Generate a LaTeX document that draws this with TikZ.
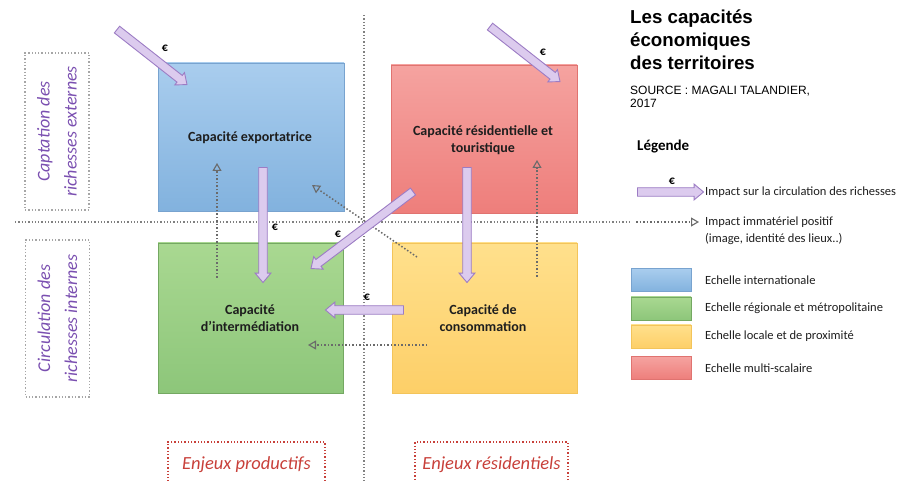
\documentclass[tikz,border=0pt]{standalone}
\usepackage{fontspec}
\setmainfont{Carlito}
\newfontfamily\titlefont{Liberation Sans}
\usetikzlibrary{arrows.meta,shapes.arrows,calc}
\definecolor{bluetop}{HTML}{A9CDEE}
\definecolor{bluebot}{HTML}{82B2DE}
\definecolor{blueedge}{HTML}{78A3CF}
\definecolor{redtop}{HTML}{F5A3A0}
\definecolor{redbot}{HTML}{EE7E7B}
\definecolor{rededge}{HTML}{E07370}
\definecolor{greentop}{HTML}{A9D891}
\definecolor{greenbot}{HTML}{8DC67A}
\definecolor{greenedge}{HTML}{74A862}
\definecolor{yeltop}{HTML}{FFE08C}
\definecolor{yelbot}{HTML}{FDCF68}
\definecolor{yeledge}{HTML}{F3C45A}
\definecolor{lav}{HTML}{DCCBEE}
\definecolor{lavedge}{HTML}{9C7CC4}
\definecolor{sidepurple}{HTML}{7A4FB0}
\definecolor{enjred}{HTML}{C8403A}
\definecolor{dotgrey}{HTML}{6A6A6A}
\definecolor{boxtext}{HTML}{1E1E1E}
\newcommand\fatarrow[2]{\path let \p1=($(#2)-(#1)$), \n1={atan2(\y1,\x1)}, \n2={veclen(\x1,\y1)} in node[fatarr, rotate=\n1, minimum height=\n2] at ($(#1)!0.5!(#2)$) {};}
\begin{document}
\begin{tikzpicture}[x=1pt,y=-1pt,
  capbox/.style={rectangle, draw, line width=0.8pt, minimum width=186pt, minimum height=148pt, inner sep=0pt, align=center, text=boxtext, font=\fontsize{14}{17}\selectfont\bfseries},
  fatarr/.style={single arrow, draw=lavedge, fill=lav, line width=0.9pt, inner sep=3.8pt, single arrow head extend=3.6pt, single arrow tip angle=80},
  euro/.style={font=\fontsize{12}{12}\selectfont\bfseries, text=black, inner sep=0pt},
  dotarr/.style={draw=dotgrey, dotted, line width=1.5pt, -{Triangle[open, length=8pt, width=9pt, line width=1.1pt]}},
  axis/.style={draw=dotgrey!85, dotted, line width=1.3pt},
  sidebox/.style={draw=gray!70, dotted, line width=1.3pt, minimum width=64pt, minimum height=157pt, inner sep=0pt},
  sidetext/.style={rotate=90, align=center, text=sidepurple, font=\fontsize{18}{27}\selectfont\itshape},
  enjbox/.style={draw=enjred, dotted, line width=1.3pt, minimum width=157pt, minimum height=60pt, inner sep=0pt},
  enjtext/.style={text=enjred, font=\fontsize{18.5}{22}\selectfont\itshape},
  legtext/.style={anchor=west, inner sep=0pt, text=boxtext, font=\fontsize{12.5}{15}\selectfont},
  swatch/.style={rectangle, draw, line width=0.8pt, minimum width=60pt, minimum height=23pt, inner sep=0pt}
]
\useasboundingbox (0,0) rectangle (922,481);
\clip (0,0) rectangle (922,481);
% axes
\coordinate (hl) at (15,222);
\coordinate (hr) at (630,222);
\coordinate (vt) at (364,15);
\coordinate (vb) at (364,481);
\draw[axis] (hl) -- (hr);
\draw[axis] (vt) -- (vb);
% boxes
\node[capbox, draw=blueedge, top color=bluetop, bottom color=bluebot] (exp) at (251,137) {};
\node[capbox, draw=rededge, top color=redtop, bottom color=redbot] (res) at (484,139) {};
\node[capbox, draw=greenedge, top color=greentop, bottom color=greenbot, minimum height=150pt, minimum width=185pt] (int) at (250.5,318) {};
\node[capbox, draw=yeledge, top color=yeltop, bottom color=yelbot, minimum height=150pt, minimum width=185pt] (con) at (484.5,318) {};
\node[capbox, draw=none, minimum width=0pt, minimum height=0pt] (expt) at (250,138) {Capacité exportatrice};
\node[capbox, draw=none, minimum width=0pt, minimum height=0pt] (rest) at (483,140) {Capacité résidentielle et\\touristique};
\node[capbox, draw=none, minimum width=0pt, minimum height=0pt] (intt) at (250,318) {Capacité\\d'intermédiation};
\node[capbox, draw=none, minimum width=0pt, minimum height=0pt] (cont) at (483,318) {Capacité de\\consommation};
% dotted arrows
\coordinate (da1) at (217,278); \coordinate (da2) at (217,163);
\coordinate (db1) at (537,277); \coordinate (db2) at (537,160);
\coordinate (dc1) at (417,257); \coordinate (dc2) at (312,185);
\coordinate (dd1) at (427,345); \coordinate (dd2) at (308,345);
\draw[dotarr] (da1) -- (da2);
\draw[dotarr] (db1) -- (db2);
\draw[dotarr] (dc1) -- (dc2);
\draw[dotarr] (dd1) -- (dd2);
% fat arrows
\coordinate (f1a) at (115,28); \coordinate (f1b) at (185,83);
\coordinate (f2a) at (488,25); \coordinate (f2b) at (558,80);
\coordinate (f3a) at (263,165); \coordinate (f3b) at (263,280);
\coordinate (f4a) at (415,190); \coordinate (f4b) at (313,267);
\coordinate (f5a) at (467,165); \coordinate (f5b) at (467,280);
\coordinate (f6a) at (406,310); \coordinate (f6b) at (328,310);
\fatarrow{f1a}{f1b}
\fatarrow{f2a}{f2b}
\fatarrow{f3a}{f3b}
\fatarrow{f4a}{f4b}
\fatarrow{f5a}{f5b}
\fatarrow{f6a}{f6b}
\node[euro] (e1) at (165,48) {€};
\node[euro] (e2) at (543,52) {€};
\node[euro] (e3) at (275,227) {€};
\node[euro] (e4) at (338,234) {€};
\node[euro] (e5) at (367,297) {€};
% side boxes
\node[sidebox] (capt) at (57,131.5) {};
\node[sidetext] (captt) at (57,131.5) {Captation des\\richesses externes};
\node[sidebox] (circ) at (57.5,318.5) {};
\node[sidetext] (circt) at (57.5,318.5) {Circulation des\\richesses internes};
% enjeux
\node[enjbox] (enjp) at (246.5,472) {};
\node[enjtext] (enjpt) at (246.5,465) {Enjeux productifs};
\node[enjbox, minimum width=153pt] (enjr) at (491.5,472) {};
\node[enjtext] (enjrt) at (491.5,465) {Enjeux résidentiels};
% title
\node[anchor=north west, align=left, inner sep=0pt, font=\titlefont\fontsize{18.7}{23}\selectfont\bfseries] (title) at (630,10) {Les capacités\\économiques\\des territoires};
\node[anchor=north west, align=left, inner sep=0pt, font=\titlefont\fontsize{12}{13}\selectfont] (src) at (630,85.5) {SOURCE : MAGALI TALANDIER,\\2017};
% legend
\node[anchor=west, inner sep=0pt, font=\fontsize{15}{18}\selectfont\bfseries] (leg) at (637,147) {Légende};
\coordinate (l1a) at (635,192); \coordinate (l1b) at (701,192);
\fatarrow{l1a}{l1b}
\node[euro] (le) at (672,181) {€};
\node[legtext] (lt1) at (705,192) {Impact sur la circulation des richesses};
\coordinate (l2a) at (636,222); \coordinate (l2b) at (699,222);
\draw[dotarr] (l2a) -- (l2b);
\node[legtext] (lt2) at (705,222) {Impact immatériel positif};
\node[legtext] (lt3) at (705,239) {(image, identité des lieux..)};
\node[swatch, draw=blueedge, top color=bluetop, bottom color=bluebot] (sw1) at (661,280) {};
\node[swatch, draw=greenedge, top color=greentop, bottom color=greenbot] (sw2) at (661,308.5) {};
\node[swatch, draw=yeledge, top color=yeltop, bottom color=yelbot] (sw3) at (661,336.5) {};
\node[swatch, draw=rededge, top color=redtop, bottom color=redbot] (sw4) at (661,368) {};
\node[legtext] (st1) at (705,280) {Echelle internationale};
\node[legtext] (st2) at (705,308.5) {Echelle régionale et métropolitaine};
\node[legtext] (st3) at (705,336.5) {Echelle locale et de proximité};
\node[legtext] (st4) at (705,368) {Echelle multi-scalaire};
\end{tikzpicture}
\end{document}
